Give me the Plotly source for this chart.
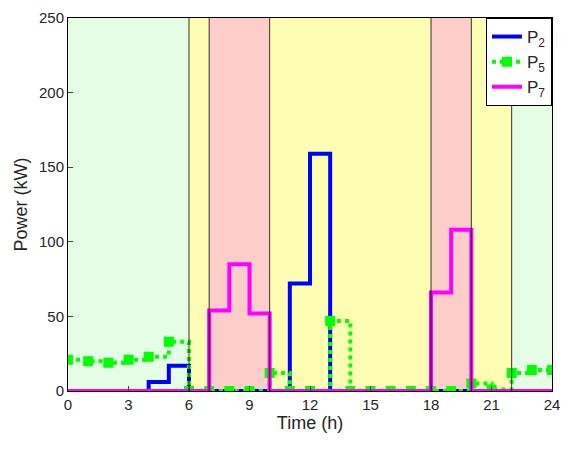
import plotly.graph_objects as go

hours = list(range(25))
p2 = [0, 0, 0, 0, 6, 17, 0, 0, 0, 0, 0, 72, 159, 0, 0, 0, 0, 0, 0, 0, 0, 0, 0, 0, 0]
p5 = [21, 20, 19, 21, 23, 33, 0, 0, 0, 0, 12, 0, 0, 47, 0, 0, 0, 0, 0, 0, 5, 1, 12, 14, 14]
p7 = [0, 0, 0, 0, 0, 0, 0, 54, 85, 52, 0, 0, 0, 0, 0, 0, 0, 0, 66, 108, 0, 0, 0, 0, 0]

bands = [(0, 6, "#e5fce5"), (6, 7, "#fdfdb3"), (7, 10, "#fdcdc9"), (10, 18, "#fdfdb3"),
         (18, 20, "#fdcdc9"), (20, 22, "#fdfdb3"), (22, 24, "#e5fce5")]
edges = [6, 7, 10, 18, 20, 22]

fig = go.Figure()
for x0, x1, c in bands:
    fig.add_vrect(x0=x0, x1=x1, fillcolor=c, line_width=0, layer="below")
for e in edges:
    fig.add_vline(x=e, line=dict(color="black", width=0.8))

fig.add_trace(go.Scatter(x=hours, y=p2, mode="lines", line=dict(color="#0000ff", width=4, shape="hv"),
                         name="P<sub>2</sub>"))
fig.add_trace(go.Scatter(x=hours, y=p5, mode="lines+markers", line=dict(color="#00ff00", width=4, shape="hv", dash="dot"),
                         marker=dict(symbol="square-dot", size=10, color="#00ff00", line=dict(color="#00ff00", width=0)),
                         name="P<sub>5</sub>"))
fig.add_trace(go.Scatter(x=hours, y=p7, mode="lines", line=dict(color="#ff00ff", width=4, shape="hv"),
                         name="P<sub>7</sub>"))

# page body has an 8px margin, so the figure is shrunk to fit the window
fig.update_layout(
    width=558, height=447, margin=dict(l=60, r=14, t=10, b=64),
    plot_bgcolor="white", paper_bgcolor="white",
    font=dict(family="Liberation Sans, Arial", size=15, color="#262626"),
    legend=dict(x=1, y=1, xanchor="right", yanchor="top", bgcolor="white",
                bordercolor="black", borderwidth=1, font=dict(size=17)),
    xaxis=dict(title=dict(text="Time (h)", standoff=4), range=[0, 24], tickvals=list(range(0, 25, 3)),
               showgrid=False, zeroline=False, showline=True, linecolor="black", mirror=True,
               ticks="inside", ticklen=5, automargin=False),
    yaxis=dict(title=dict(text="Power (kW)", standoff=6), range=[0, 250], tickvals=list(range(0, 251, 50)),
               showgrid=False, zeroline=False, showline=True, linecolor="black", mirror=True,
               ticks="inside", ticklen=5, automargin=False),
)
fig.write_html("out.html")
